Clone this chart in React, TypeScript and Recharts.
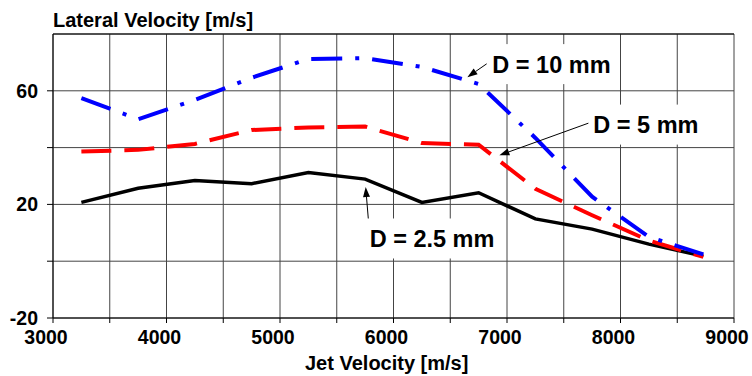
import { CartesianGrid, Line, LineChart, ReferenceDot, ReferenceLine, XAxis, YAxis } from 'recharts'

// jet velocity [m/s] at the measured points
const jetVelocity = [3250, 3750, 4250, 4750, 5250, 5750, 6250, 6750, 7250, 7750, 8250, 8730]
// lateral velocity [m/s] for each nozzle diameter
const d25 = [20.7, 25.7, 28.4, 27.3, 31.2, 28.9, 20.7, 24.1, 14.9, 11.3, 6.0, 1.8]
const d5 = [38.6, 39.2, 41.3, 46.2, 47.1, 47.4, 41.6, 41.0, 25.5, 16.2, 7.3, 1.5]
const d10 = [57.4, 50.0, 56.8, 64.6, 71.2, 71.5, 68.4, 62.4, 43.4, 22.7, 8.6, 2.4]

const xTicks = [3000, 3500, 4000, 4500, 5000, 5500, 6000, 6500, 7000, 7500, 8000, 8500, 9000]
const yTicks = [-20, 0, 20, 40, 60]
const xLabelled = [3000, 4000, 5000, 6000, 7000, 8000, 9000]
const yLabelled = [-20, 20, 60]

// callouts, in data units (text start x, text middle y)
const labels = [
  { text: 'D = 10 mm', x: 6871, y: 69.4, w: 128 },
  { text: 'D = 5 mm', x: 7761, y: 48.1, w: 114 },
  { text: 'D = 2.5 mm', x: 5790, y: 8.0, w: 134 },
]
const arrows = [
  { x1: 6821, y1: 69.5, x2: 6651, y2: 64.8 },
  { x1: 7731, y1: 48.8, x2: 6933, y2: 37.3 },
  { x1: 5781, y1: 13.5, x2: 5755, y2: 26.1 },
]

const data = jetVelocity.map((v, i) => ({ v, d25: d25[i], d5: d5[i], d10: d10[i] }))

const FONT = "'Liberation Sans', Arial, Helvetica, sans-serif"

const XTick = ({ x, y, payload }: any) => {
  if (!xLabelled.includes(payload.value)) return <g />
  return (
    <text x={x - 7} y={y + 21} textAnchor="middle" fontFamily={FONT} fontWeight="bold" fontSize={19.5} fill="#000">
      {payload.value}
    </text>
  )
}

const YTick = ({ x, y, payload }: any) => {
  if (!yLabelled.includes(payload.value)) return <g />
  return (
    <text x={x - 9} y={y + 7} textAnchor="end" fontFamily={FONT} fontWeight="bold" fontSize={19.5} fill="#000">
      {payload.value}
    </text>
  )
}

const CallOut = (text: string, w: number) => (props: any) => {
  const { cx, cy } = props
  return (
    <g>
      <rect x={cx - 5} y={cy - 20} width={w} height={40} fill="#fff" />
      <text x={cx} y={cy + 8.4} fontFamily={FONT} fontWeight="bold" fontSize={23.5} fill="#000">
        {text}
      </text>
    </g>
  )
}

const Arrow = (props: any) => {
  const { x1, y1, x2, y2 } = props
  const ang = Math.atan2(y2 - y1, x2 - x1)
  const len = 10
  const half = 3.5
  const bx = x2 - len * Math.cos(ang)
  const by = y2 - len * Math.sin(ang)
  const px = -Math.sin(ang) * half
  const py = Math.cos(ang) * half
  return (
    <g>
      <line x1={x1} y1={y1} x2={bx} y2={by} stroke="#000" strokeWidth={1} />
      <polygon points={`${x2},${y2} ${bx + px},${by + py} ${bx - px},${by - py}`} fill="#000" />
    </g>
  )
}

export default function App() {
  return (
    <div style={{ position: 'absolute', left: 0, top: 0, width: 752, height: 376, background: '#fff' }}>
      <div
        style={{
          position: 'absolute', left: 53, top: 10, fontFamily: FONT, fontWeight: 'bold',
          fontSize: 20, lineHeight: '20px', whiteSpace: 'nowrap',
        }}
      >
        Lateral Velocity [m/s]
      </div>
      <div
        style={{
          position: 'absolute', left: 305, top: 353, fontFamily: FONT, fontWeight: 'bold',
          fontSize: 20, lineHeight: '20px', whiteSpace: 'nowrap',
        }}
      >
        Jet Velocity [m/s]
      </div>
      <LineChart width={752} height={376} data={data} margin={{ top: 34, right: 18, bottom: 28, left: 0 }}>
        <CartesianGrid stroke="#444" strokeWidth={1} />
        <XAxis
          dataKey="v"
          type="number"
          domain={[3000, 9000]}
          ticks={xTicks}
          height={30}
          tickSize={5}
          tickMargin={0}
          stroke="#000"
          tickLine={{ stroke: '#000' }}
          tick={<XTick />}
          interval={0}
        />
        <YAxis
          type="number"
          domain={[-20, 80]}
          ticks={yTicks}
          width={53}
          tickSize={6}
          tickMargin={0}
          stroke="#000"
          tickLine={{ stroke: '#000' }}
          tick={<YTick />}
          interval={0}
        />
        <ReferenceLine y={80} stroke="#000" ifOverflow="visible" />
        <Line dataKey="d25" stroke="#000" strokeWidth={3.5} dot={false} isAnimationActive={false} />
        <Line dataKey="d5" stroke="#ff0000" strokeWidth={4} strokeDasharray="30 13" dot={false} isAnimationActive={false} />
        <Line dataKey="d10" stroke="#0000ff" strokeWidth={4} strokeDasharray="31 13 4 13" dot={false} isAnimationActive={false} />
        {labels.map((l) => (
          <ReferenceDot key={l.text} x={l.x} y={l.y} r={0} ifOverflow="visible" shape={CallOut(l.text, l.w)} />
        ))}
        {arrows.map((a, i) => (
          <ReferenceLine
            key={i}
            segment={[{ x: a.x1, y: a.y1 }, { x: a.x2, y: a.y2 }]}
            ifOverflow="visible"
            shape={Arrow}
          />
        ))}
      </LineChart>
    </div>
  )
}
